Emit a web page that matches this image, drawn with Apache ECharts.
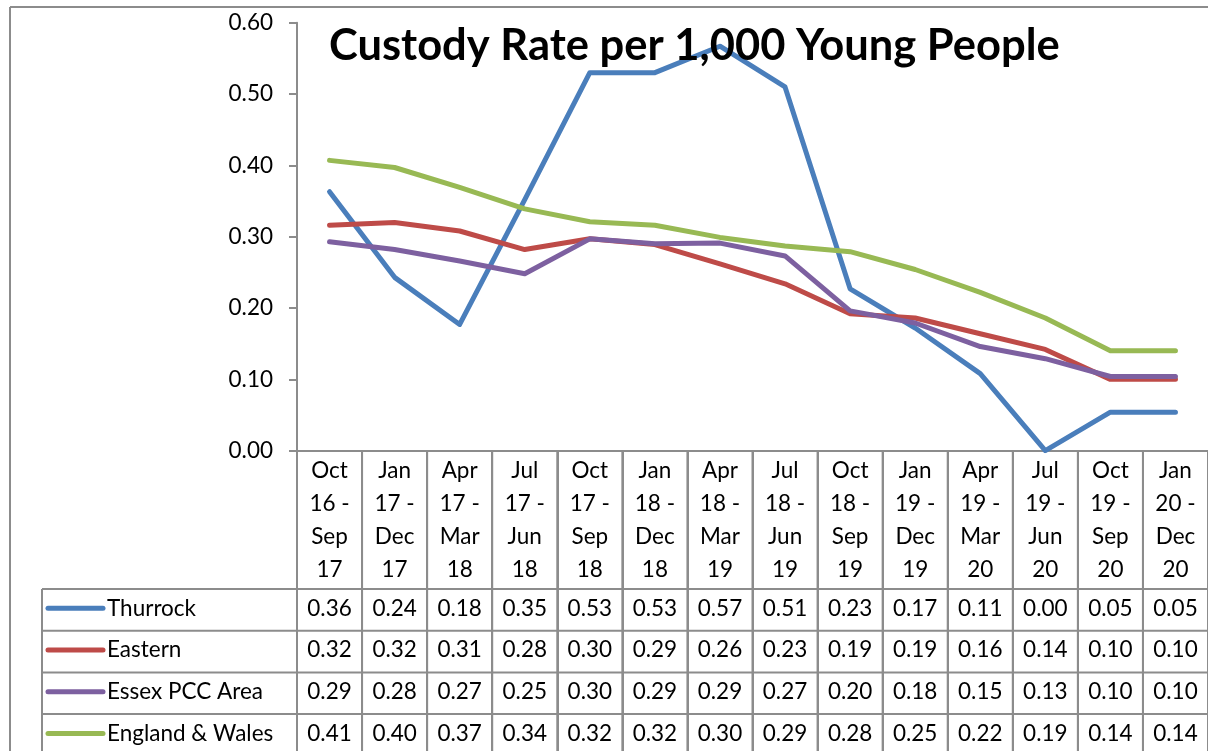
<!DOCTYPE html>
<html>
<head>
<meta charset="utf-8">
<script src="https://cdn.jsdelivr.net/npm/echarts@6/dist/echarts.min.js"></script>
<style>
  html, body { margin: 0; padding: 0; background: #fff; }
  #chart { width: 1208px; height: 751px; }
</style>
</head>
<body>
<div id="chart"></div>
<script>
// periods (shown as 4-line column headers)
const categories = [
  'Oct\n16 -\nSep\n17', 'Jan\n17 -\nDec\n17', 'Apr\n17 -\nMar\n18', 'Jul\n17 -\nJun\n18',
  'Oct\n17 -\nSep\n18', 'Jan\n18 -\nDec\n18', 'Apr\n18 -\nMar\n19', 'Jul\n18 -\nJun\n19',
  'Oct\n18 -\nSep\n19', 'Jan\n19 -\nDec\n19', 'Apr\n19 -\nMar\n20', 'Jul\n19 -\nJun\n20',
  'Oct\n19 -\nSep\n20', 'Jan\n20 -\nDec\n20'
]
const thurrock = [0.363, 0.243, 0.177, 0.352, 0.530, 0.530, 0.567, 0.510, 0.227, 0.172, 0.108, 0.000, 0.054, 0.054]
const eastern = [0.316, 0.320, 0.308, 0.282, 0.297, 0.289, 0.262, 0.234, 0.192, 0.186, 0.164, 0.142, 0.100, 0.100]
const essex = [0.293, 0.282, 0.266, 0.248, 0.297, 0.290, 0.291, 0.273, 0.196, 0.179, 0.146, 0.129, 0.104, 0.104]
const englandWales = [0.407, 0.397, 0.369, 0.339, 0.321, 0.316, 0.299, 0.287, 0.279, 0.254, 0.222, 0.186, 0.140, 0.140]

const seriesNames = ['Thurrock', 'Eastern', 'Essex PCC Area', 'England & Wales']
const seriesData = [thurrock, eastern, essex, englandWales]
const colors = ['#4a7ebb', '#be4b48', '#7d60a0', '#98b954']

const font = 'Lato, "Open Sans", sans-serif'
const gridColor = '#8c8c8c'
const fs = 22.5

const chart = echarts.init(document.getElementById('chart'))

chart.setOption({
  animation: false,
  textStyle: { fontFamily: font },
  title: {
    text: 'Custody Rate per 1,000 Young People',
    left: 324,
    top: 19,
    textStyle: { fontSize: 43.5, fontWeight: 'bold', color: '#000', fontFamily: font }
  },
  grid: { left: 297, right: -6, top: 22.7, bottom: 300.3, containLabel: false },
  xAxis: {
    type: 'category',
    data: categories,
    boundaryGap: true,
    axisLine: { lineStyle: { color: gridColor, width: 2 } },
    axisTick: { show: true, interval: 0, length: 320, lineStyle: { color: gridColor, width: 2 } },
    axisLabel: {
      interval: 0,
      fontSize: fs,
      lineHeight: 33,
      margin: 4,
      color: '#000',
      fontFamily: font
    }
  },
  yAxis: {
    type: 'value',
    min: 0,
    max: 0.6,
    interval: 0.1,
    axisLine: { show: true, lineStyle: { color: gridColor, width: 2 } },
    axisTick: { show: true, length: 8, lineStyle: { color: gridColor, width: 2 } },
    splitLine: { show: false },
    axisLabel: {
      fontSize: fs,
      margin: 24,
      color: '#000',
      fontFamily: font,
      formatter: v => v.toFixed(2)
    }
  },
  series: seriesNames.map((name, i) => ({
    name: name,
    type: 'line',
    data: seriesData[i],
    showSymbol: false,
    lineStyle: { color: colors[i], width: 5, cap: 'round', join: 'round' },
    itemStyle: { color: colors[i] },
    z: 2 + i
  }))
})

// data table under the axis
function drawTable() {
  const tableTop = 589
  const rowH = 41.7
  const tableLeft = 42
  const right = 1214
  const els = []
  // outer chart border
  els.push({ type: 'line', shape: { x1: 10, y1: 7, x2: 1210, y2: 7 }, style: { stroke: gridColor, lineWidth: 2 } })
  els.push({ type: 'line', shape: { x1: 10, y1: 7, x2: 10, y2: 760 }, style: { stroke: gridColor, lineWidth: 2 } })
  // table frame
  els.push({ type: 'line', shape: { x1: tableLeft, y1: tableTop, x2: tableLeft, y2: 760 }, style: { stroke: gridColor, lineWidth: 2 } })
  // column separators (continuing the axis ticks)
  for (let i = 0; i <= categories.length; i++) {
    const x = chart.convertToPixel({ xAxisIndex: 0 }, i) - (chart.convertToPixel({ xAxisIndex: 0 }, 1) - chart.convertToPixel({ xAxisIndex: 0 }, 0)) / 2
    els.push({ type: 'line', shape: { x1: x, y1: 450.7, x2: x, y2: 760 }, style: { stroke: gridColor, lineWidth: 2 } })
  }
  for (let r = 0; r < seriesNames.length; r++) {
    const y = tableTop + r * rowH
    els.push({ type: 'line', shape: { x1: tableLeft, y1: y, x2: right, y2: y }, style: { stroke: gridColor, lineWidth: 2 } })
    const cy = y + rowH / 2 - 1.5
    els.push({ type: 'line', shape: { x1: 48, y1: cy, x2: 103, y2: cy }, style: { stroke: colors[r], lineWidth: 5, lineCap: 'round' } })
    els.push({
      type: 'text',
      style: { x: 107, y: cy, text: seriesNames[r], fontSize: fs, fontFamily: font, fill: '#000', verticalAlign: 'middle', align: 'left' }
    })
    seriesData[r].forEach((v, i) => {
      const cx = chart.convertToPixel({ xAxisIndex: 0 }, i)
      els.push({
        type: 'text',
        style: { x: cx, y: cy, text: v.toFixed(2), fontSize: fs, fontFamily: font, fill: '#000', verticalAlign: 'middle', align: 'center' }
      })
    })
  }
  chart.setOption({ graphic: { elements: els } })
}
drawTable()
</script>
</body>
</html>
